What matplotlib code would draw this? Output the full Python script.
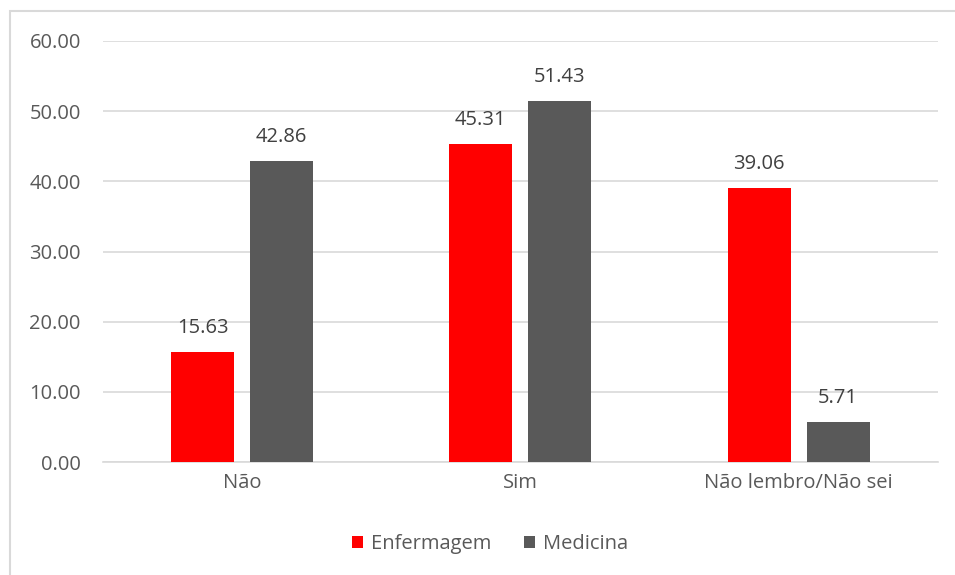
import numpy as np
import matplotlib.pyplot as plt
from matplotlib.patches import Rectangle

categorias = ["Não", "Sim", "Não lembro/Não sei"]
enfermagem = [15.63, 45.31, 39.06]
medicina = [42.86, 51.43, 5.71]

plt.rcParams['font.family'] = ['Open Sans', 'DejaVu Sans']
fs = 14.5

fig = plt.figure(figsize=(9.55, 5.75), dpi=100)
ax = fig.add_axes([0.1079, 0.1965, 0.874, 0.7322])

# moldura cinza em volta do grafico
fig.patches.append(Rectangle((10/955, -0.1), 1.2, 1 - 11/575 + 0.1,
                             transform=fig.transFigure, fill=False,
                             edgecolor='#d9d9d9', linewidth=1.5))

x = np.arange(len(categorias))
w = 0.227
d = 0.142
b1 = ax.bar(x - d, enfermagem, w, color='#ff0000', label='Enfermagem', zorder=3)
b2 = ax.bar(x + d, medicina, w, color='#595959', label='Medicina', zorder=3)

for barras, vals in [(b1, enfermagem), (b2, medicina)]:
    for b, v in zip(barras, vals):
        ax.text(b.get_x() + b.get_width()/2, v + 2.0, f"{v:.2f}",
                ha='center', va='bottom', fontsize=fs, color='#404040')

ax.set_xlim(-0.5, 2.5)
ax.set_ylim(0, 60)
ax.set_yticks(np.arange(0, 61, 10))
ax.set_yticklabels([f"{v:.2f}" for v in np.arange(0, 61, 10)])
ax.set_xticks(x)
ax.set_xticklabels(categorias)
ax.grid(axis='y', color='#d9d9d9', linewidth=1.2, zorder=0)
for s in ['top', 'right', 'left']:
    ax.spines[s].set_visible(False)
ax.spines['bottom'].set_color('#d9d9d9')
ax.spines['bottom'].set_linewidth(1.2)
ax.tick_params(axis='both', length=0, labelsize=fs, colors='#595959')
ax.tick_params(axis='y', pad=16)
ax.tick_params(axis='x', pad=8)

fig.legend(handles=[b1, b2], loc='center', bbox_to_anchor=(490/955, 1 - 544/575),
           ncol=2, frameon=False, fontsize=fs, handlelength=0.55, handleheight=0.55,
           columnspacing=1.6, handletextpad=0.4, labelcolor='#595959')

fig.savefig("out.png", dpi=100)
